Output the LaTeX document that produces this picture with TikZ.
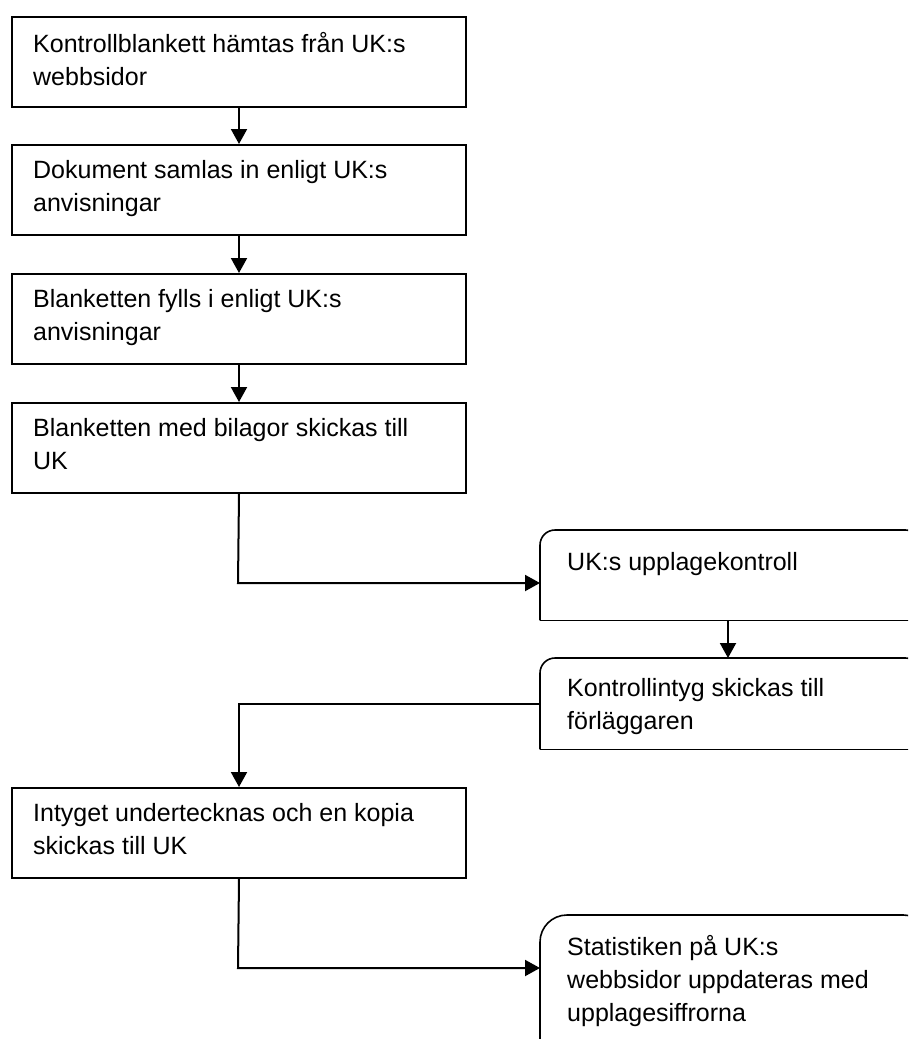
\documentclass[tikz,border=0pt]{standalone}
\usepackage{fontspec}
\setmainfont{Liberation Sans}
\usetikzlibrary{arrows.meta,calc}
\tikzset{
  sqbox/.style={draw, line width=2pt, rectangle, inner sep=0pt, anchor=north west, minimum width=454pt, minimum height=90pt},
  rbox/.style={rectangle, inner sep=0pt, anchor=north west, minimum width=380pt},
  rline/.style={line width=1.6pt},
  txt/.style={anchor=north west, inner sep=0pt, align=left, font=\fontsize{25}{33}\selectfont, execute at begin node=\rule{0pt}{20pt}},
  conn/.style={line width=2pt},
  arr/.style={line width=2pt, -{Triangle[length=15pt,width=16pt]}}
}
\begin{document}
\begin{tikzpicture}[x=1pt,y=-1pt]
\useasboundingbox (0,0) rectangle (908,1039);
\clip (0,0) rectangle (908,1039);
% square boxes
\node[sqbox] (b1) at (11,16) {};
\node[sqbox] (b2) at (11,144) {};
\node[sqbox] (b3) at (11,273) {};
\node[sqbox] (b4) at (11,402) {};
\node[sqbox] (b7) at (11,787) {};
% rounded boxes (top corners rounded, running off the right edge)
\node[rbox, minimum height=90pt] (b5) at (540,530) {};
\node[rbox, minimum height=91pt] (b6) at (540,658) {};
\node[rbox, minimum width=390pt, minimum height=145pt] (b8) at (540,915) {};
\draw[rline, rounded corners=15pt] (b5.south west) -- (b5.north west) -- (b5.north east) -- (b5.south east);
\draw[rline] (b5.south west) -- (b5.south east);
\draw[rline, rounded corners=15pt] (b6.south west) -- (b6.north west) -- (b6.north east) -- (b6.south east);
\draw[rline] (b6.south west) -- (b6.south east);
\draw[rline, rounded corners=27pt] (b8.south west) -- (b8.north west) -- (b8.north east) -- (b8.south east);
% texts
\node[txt] (t1) at ([xshift=22pt,yshift=-16pt]b1.north west) {Kontrollblankett hämtas från UK:s\\webbsidor};
\node[txt] (t2) at ([xshift=22pt,yshift=-16pt]b2.north west) {Dokument samlas in enligt UK:s\\anvisningar};
\node[txt] (t3) at ([xshift=22pt,yshift=-16pt]b3.north west) {Blanketten fylls i enligt UK:s\\anvisningar};
\node[txt] (t4) at ([xshift=22pt,yshift=-16pt]b4.north west) {Blanketten med bilagor skickas till\\UK};
\node[txt] (t5) at ([xshift=27pt,yshift=-20pt]b5.north west) {UK:s upplagekontroll};
\node[txt] (t6) at ([xshift=27pt,yshift=-20pt]b6.north west) {Kontrollintyg skickas till\\förläggaren};
\node[txt] (t7) at ([xshift=22pt,yshift=-16pt]b7.north west) {Intyget undertecknas och en kopia\\skickas till UK};
\node[txt] (t8) at ([xshift=27pt,yshift=-20pt]b8.north west) {Statistiken på UK:s\\webbsidor uppdateras med\\upplagesiffrorna};
% connector bends
\coordinate (c1) at (238,583);
\coordinate (c2) at (728,0);
\coordinate (c3) at (238,968);
% connectors
\draw[arr] (b1.south) -- (b2.north);
\draw[arr] (b2.south) -- (b3.north);
\draw[arr] (b3.south) -- (b4.north);
\draw[arr] (b4.south) -- (c1) -- (c1 -| b5.west);
\draw[arr] (b5.south -| c2) -- (b6.north -| c2);
\draw[arr] (b6.west) -| (b7.north);
\draw[arr] (b7.south) -- (c3) -- (c3 -| b8.west);
\end{tikzpicture}
\end{document}
